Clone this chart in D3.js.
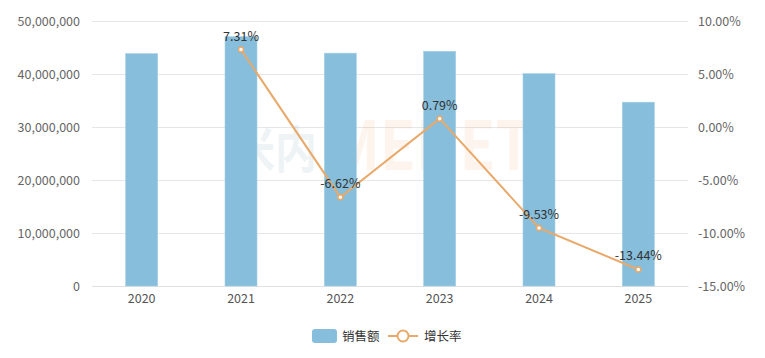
<!DOCTYPE html>
<html><head><meta charset="utf-8">
<script src="https://cdn.jsdelivr.net/npm/d3@7"></script>
<style>body{margin:0;background:#fff;} text{font-family:"Microsoft YaHei","Noto Sans CJK SC","Noto Sans",sans-serif;}</style>
</head><body>
<svg id="c" width="765" height="358"></svg>
<script>
const years = ["2020","2021","2022","2023","2024","2025"];
const sales = [43840000, 47040000, 43930000, 44280000, 40060000, 34680000];
const growth = [null, 7.31, -6.62, 0.79, -9.53, -13.44];
const leftTicks = [0, 10000000, 20000000, 30000000, 40000000, 50000000];
const rightTicks = [-15, -10, -5, 0, 5, 10];

const pct = v => (v < 0 ? "-" : "") + Math.abs(v).toFixed(2) + "%";

const svg = d3.select("#c");
const L = 92, R = 688, T = 21, B = 286;
const x = d3.scaleBand().domain(years).range([L, R]);
const yL = d3.scaleLinear().domain([0, 50000000]).range([B, T]);
const yR = d3.scaleLinear().domain([-15, 10]).range([B, T]);

// grid
svg.append("g").selectAll("line").data(leftTicks).join("line")
  .attr("x1", L).attr("x2", R).attr("y1", d => yL(d)).attr("y2", d => yL(d))
  .attr("stroke", "#e6e6e6").attr("stroke-width", 1).attr("shape-rendering","crispEdges");

// watermark
svg.append("text").attr("x", 233).attr("y", 168)
  .attr("font-size", 50).attr("font-weight", "bold").attr("opacity", 0.07)
  .attr("textLength", 84).attr("lengthAdjust", "spacingAndGlyphs")
  .attr("fill", "#1f5f8f").text("米内");
svg.append("text").attr("x", 330).attr("y", 170)
  .attr("font-size", 68).attr("font-weight", "bold").attr("opacity", 0.07)
  .attr("textLength", 202).attr("lengthAdjust", "spacingAndGlyphs")
  .attr("fill", "#f07020").text("MENET");

// left axis
const axL = d3.axisLeft(yL).tickValues(leftTicks).tickSize(0).tickPadding(12).tickFormat(d3.format(","));
const gL = svg.append("g").attr("transform", `translate(${L},0)`).call(axL);
gL.select(".domain").remove();
gL.selectAll("text").attr("fill", "#666").attr("font-size", 12.5);

// right axis
const axR = d3.axisRight(yR).tickValues(rightTicks).tickSize(0).tickPadding(10).tickFormat(pct);
const gR = svg.append("g").attr("transform", `translate(${R},0)`).call(axR);
gR.select(".domain").remove();
gR.selectAll("text").attr("fill", "#666").attr("font-size", 12.5);

// bottom axis
const axB = d3.axisBottom(x).tickSize(0).tickPadding(8);
const gB = svg.append("g").attr("transform", `translate(0,${B})`).call(axB);
gB.select(".domain").attr("stroke", "#e0e0e0");
gB.selectAll("text").attr("fill", "#555").attr("font-size", 12.5);

// bars
const bw = 32;
svg.append("g").selectAll("rect").data(years).join("rect")
  .attr("x", d => x(d) + x.bandwidth()/2 - bw/2)
  .attr("width", bw)
  .attr("y", (d,i) => yL(sales[i]))
  .attr("height", (d,i) => B - yL(sales[i]))
  .attr("fill", "#86bedb").attr("stroke", "#a3cfe6").attr("stroke-width", 0.6);

// line
const pts = years.map((d,i) => ({d, v: growth[i]})).filter(p => p.v !== null);
const line = d3.line().x(p => x(p.d) + x.bandwidth()/2).y(p => yR(p.v));
const lineColor = "#e8a96a";
svg.append("path").datum(pts).attr("d", line).attr("fill", "none")
  .attr("stroke", lineColor).attr("stroke-width", 2);
svg.append("g").selectAll("circle").data(pts).join("circle")
  .attr("cx", p => x(p.d) + x.bandwidth()/2).attr("cy", p => yR(p.v))
  .attr("r", 2.5).attr("fill", "#fff").attr("stroke", lineColor).attr("stroke-width", 1.5);
svg.append("g").selectAll("text").data(pts).join("text")
  .attr("x", p => x(p.d) + x.bandwidth()/2).attr("y", p => yR(p.v) - 9)
  .attr("text-anchor", "middle").attr("fill", "#333").attr("font-size", 12.5)
  .text(p => pct(p.v));

// legend
const lg = svg.append("g");
lg.append("rect").attr("x", 312).attr("y", 329).attr("width", 25).attr("height", 14)
  .attr("rx", 3).attr("fill", "#86bedb");
lg.append("text").attr("x", 342).attr("y", 340.5).attr("fill", "#333").attr("font-size", 12.5).text("销售额");
lg.append("line").attr("x1", 388).attr("x2", 418).attr("y1", 336).attr("y2", 336)
  .attr("stroke", lineColor).attr("stroke-width", 2);
lg.append("circle").attr("cx", 403).attr("cy", 336).attr("r", 5.5).attr("fill", "#fff")
  .attr("stroke", lineColor).attr("stroke-width", 2);
lg.append("text").attr("x", 424).attr("y", 340.5).attr("fill", "#333").attr("font-size", 12.5).text("增长率");
</script>
</body></html>
